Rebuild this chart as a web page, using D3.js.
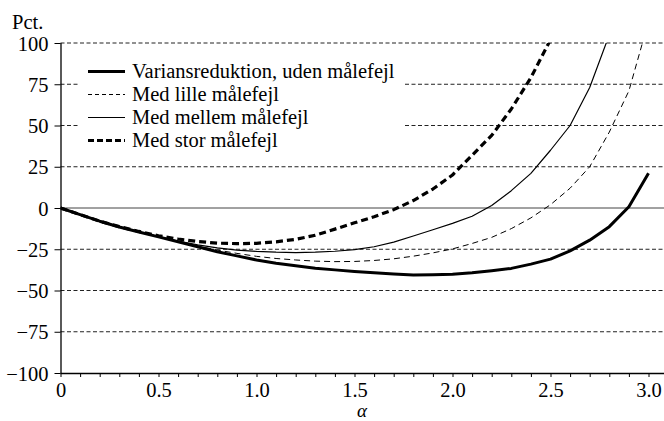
<!DOCTYPE html>
<html>
<head>
<meta charset="utf-8">
<script src="https://cdn.jsdelivr.net/npm/d3@7"></script>
<style>
  html, body { margin: 0; padding: 0; background: #fff; }
  svg { display: block; }
</style>
</head>
<body>
<svg id="chart" width="664" height="421"></svg>
<script>
// alpha values (x axis)
const alphas = [0, 0.1, 0.2, 0.3, 0.4, 0.5, 0.6, 0.7, 0.8, 0.9, 1.0, 1.1, 1.2, 1.3, 1.4, 1.5,
  1.6, 1.7, 1.8, 1.9, 2.0, 2.1, 2.2, 2.3, 2.4, 2.5, 2.6, 2.7, 2.8, 2.9, 3.0];

// Variansreduktion i pct.
const udenFejl = [0, -4, -8, -11.5, -14.5, -17.5, -20.5, -23.5, -26.5, -29, -31.5, -33.5, -35, -36.5,
  -37.5, -38.5, -39.3, -40, -40.6, -40.5, -40.2, -39.3, -38, -36.6, -34, -31, -26, -19.5, -11.3, 0.8, 21];
const lilleFejl = [0, -4, -8, -11.5, -14.5, -17.5, -20.5, -23, -25.5, -27.5, -29.3, -30.6, -31.5, -32.2,
  -32.5, -32.4, -31.8, -30.8, -29.2, -27.2, -24.8, -21.5, -17.8, -12.5, -6, 2, 12, 25, 46, 71, 113];
const mellemFejl = [0, -4, -8, -11.5, -14.5, -17.3, -20, -22.3, -24.2, -25.5, -26.3, -26.8, -27, -26.8,
  -26.2, -25.2, -23.5, -20.7, -17, -13.2, -9.3, -5, 1.5, 10.5, 21, 35, 50, 73, 105];
const storFejl = [0, -4, -8, -11.3, -14.2, -16.8, -18.8, -20.3, -21.3, -21.6, -21.4, -20.5, -19, -16.5,
  -12.8, -9, -5.3, -1, 4.5, 11.5, 20, 32, 44, 60, 79, 102];

const yTicks = [-100, -75, -50, -25, 0, 25, 50, 75, 100];
const xTickLabels = [0, 0.5, 1.0, 1.5, 2.0, 2.5, 3.0];
const legendLabels = ["Variansreduktion, uden målefejl", "Med lille målefejl", "Med mellem målefejl", "Med stor målefejl"];

const styles = [
  { width: 3, dash: null },
  { width: 1, dash: "6,4" },
  { width: 1.2, dash: null },
  { width: 3.2, dash: "7,4" }
];
const series = [udenFejl, lilleFejl, mellemFejl, storFejl];
const serifFont = "'Liberation Serif', 'Times New Roman', serif";
const fontSize = "20.5px";

const svg = d3.select("#chart");
const pLeft = 60.5, pTop = 43, pBottom = 373, pRight = 664;

const x = d3.scaleLinear().domain([0, 3]).range([pLeft, 648.5]);
const y = d3.scaleLinear().domain([-100, 100]).range([pBottom, pTop]);

svg.append("defs").append("clipPath").attr("id", "plotClip")
  .append("rect").attr("x", pLeft).attr("y", pTop).attr("width", pRight - pLeft).attr("height", pBottom - pTop);

// gitterlinjer
svg.append("g").selectAll("line")
  .data(yTicks.filter(d => d != -100))
  .join("line")
  .attr("x1", pLeft).attr("x2", pRight)
  .attr("y1", d => y(d)).attr("y2", d => y(d))
  .attr("stroke", d => d == 0 ? "#444" : "#222")
  .attr("stroke-width", 1)
  .attr("stroke-dasharray", d => d == 0 ? null : "4,2.5");

// hvid baggrund bag forklaringen
svg.append("rect").attr("x", 80).attr("y", 52).attr("width", 324).attr("height", 103).attr("fill", "#fff");

// kurver
const line = d3.line().x((d, i) => x(alphas[i])).y(d => y(d));
const curves = svg.append("g").attr("clip-path", "url(#plotClip)");
series.forEach((s, k) => {
  curves.append("path")
    .datum(s)
    .attr("d", line)
    .attr("fill", "none")
    .attr("stroke", "#000")
    .attr("stroke-width", styles[k].width)
    .attr("stroke-dasharray", styles[k].dash)
    .attr("stroke-linejoin", "round");
});

// akser
const xAxis = d3.axisBottom(x)
  .tickValues(d3.range(0, 31).map(i => i / 10))
  .tickSize(4)
  .tickFormat(d => xTickLabels.some(v => Math.abs(v - d) < 1e-9) ? (d == 0 ? "0" : d3.format(".1f")(d)) : "");
const gx = svg.append("g").attr("transform", `translate(0,${pBottom})`).call(xAxis);
gx.select(".domain").attr("d", `M${pLeft},0.5H${pRight}`).attr("stroke", "#000").attr("stroke-width", 1.3);
gx.selectAll(".tick line").attr("stroke", "#000");
gx.selectAll(".tick text")
  .attr("y", 24).attr("dy", 0)
  .style("font-family", serifFont).style("font-size", fontSize).attr("fill", "#000");

const yAxis = d3.axisLeft(y).tickValues(yTicks).tickSize(6).tickFormat(d3.format("d"));
const gy = svg.append("g").attr("transform", `translate(${pLeft},0)`).call(yAxis);
gy.select(".domain").attr("d", `M0.5,${pTop}V${pBottom}`).attr("stroke", "#000").attr("stroke-width", 1.3);
gy.selectAll(".tick line").attr("stroke", "#000");
gy.selectAll(".tick text")
  .attr("x", -12).attr("dy", "0.35em")
  .style("font-family", serifFont).style("font-size", fontSize).attr("fill", "#000");

// aksetitler
svg.append("text").attr("x", 12).attr("y", 29)
  .style("font-family", serifFont).style("font-size", fontSize).text("Pct.");
svg.append("text").attr("x", 362).attr("y", 417)
  .style("font-family", serifFont).style("font-size", "19px")
  .style("font-style", "italic").attr("text-anchor", "middle").text("α");

// forklaring
const legend = svg.append("g");
legendLabels.forEach((lab, k) => {
  const by = 78 + k * 23;
  legend.append("line")
    .attr("x1", 88).attr("x2", 125)
    .attr("y1", by - 6.5).attr("y2", by - 6.5)
    .attr("stroke", "#000")
    .attr("stroke-width", styles[k].width)
    .attr("stroke-dasharray", k == 1 ? "4,3" : k == 3 ? "6,3" : null);
  legend.append("text").attr("x", 132).attr("y", by)
    .style("font-family", serifFont).style("font-size", fontSize).text(lab);
});
</script>
</body>
</html>
